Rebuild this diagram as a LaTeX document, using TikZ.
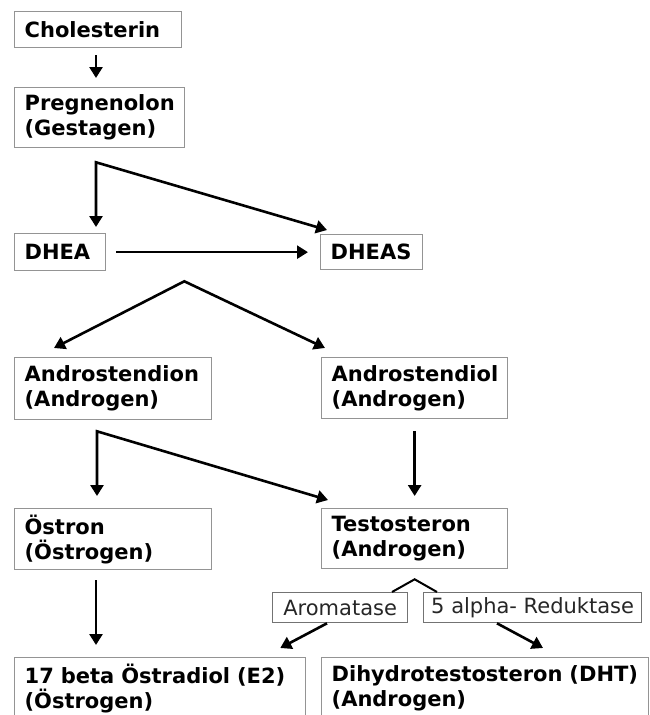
\documentclass[tikz,border=0pt]{standalone}
\usepackage{fontspec}
\setmainfont{DejaVu Sans}
\usetikzlibrary{arrows.meta}
\hyphenpenalty=10000
\exhyphenpenalty=10000

\tikzset{
  box/.style={draw=black!42, line width=1.3pt, anchor=north west, align=left,
    inner xsep=10pt, inner ysep=0pt, font=\fontsize{21}{25}\selectfont\bfseries},
  enzbox/.style={draw=black!55, line width=1.3pt, anchor=north west, align=center,
    inner xsep=0pt, inner ysep=0pt, text=black!85, font=\fontsize{21}{25}\selectfont},
  arr/.style={line width=2.6pt, -{Triangle[length=11pt,width=13pt]}},
  arrtwo/.style={line width=2.6pt, {Triangle[length=11pt,width=13pt]}-{Triangle[length=11pt,width=13pt]}},
  branch/.style={line width=2pt}
}

\begin{document}
\begin{tikzpicture}[x=1pt,y=-1pt]
%\draw[step=50,gray,very thin] (0,0) grid (650,715); %background grid
\useasboundingbox (0,0) rectangle (650,715);
\clip (0,0) rectangle (650,715);

\node[box, text width=147pt, minimum height=36pt] (chol) at (14,11) {Cholesterin};
\node[box, text width=150pt, minimum height=60pt] (preg) at (14,87) {Pregnenolon\\(Gestagen)};

\node[box, text width=71pt, minimum height=37pt] (dhea) at (14,233) {DHEA};
\node[box, text width=82pt, minimum height=35pt] (dheas) at (320,234) {DHEAS};

\node[box, text width=177pt, minimum height=62pt] (adion) at (14,357) {Androstendion\\(Androgen)};
\node[box, text width=166pt, minimum height=61pt] (adiol) at (321,357) {Androstendiol\\(Androgen)};

\node[box, text width=177pt, minimum height=61pt] (oestron) at (14,508) {Östron\\(Östrogen)};
\node[box, text width=166pt, minimum height=60pt] (testo) at (321,508) {Testosteron\\(Androgen)};

\node[enzbox, minimum width=135pt, minimum height=30pt] (aroma) at (272,592) {Aromatase};
\node[enzbox, minimum width=218pt, minimum height=30pt] (reduk) at (423,592) {5 alpha- Reduktase};

\node[box, text width=271pt, minimum height=61pt] (oestradiol) at (14,657) {17 beta Östradiol (E2)\\(Östrogen)};
\node[box, text width=307pt, minimum height=61pt] (dht) at (321,657) {Dihydrotestosteron (DHT)\\(Androgen)};

% branch points
\coordinate (pf) at ([xshift=82pt,yshift=-14pt]preg.south west);
\coordinate (ds) at ([xshift=78pt,yshift=-10pt]dhea.south east);
\coordinate (as) at ([xshift=83pt,yshift=-11pt]adion.south west);
\coordinate (ts) at ([yshift=-10pt]testo.south);

\draw[arr, shorten <=7pt, shorten >=9pt] ([xshift=82pt]chol.south west) -- ([xshift=82pt]preg.north west);
\draw[arrtwo] ([xshift=82pt,yshift=6pt]dhea.north west) -- (pf) -- ([xshift=7pt,yshift=4pt]dheas.north west);
\draw[arr, shorten <=10pt, shorten >=12pt] (dhea.east) -- (dheas.west);

\draw[arrtwo] ([xshift=40pt,yshift=9pt]adion.north west) -- (ds) -- ([xshift=4pt,yshift=9pt]adiol.north west);

\draw[arrtwo] ([xshift=83pt,yshift=12pt]oestron.north west) -- (as) -- ([xshift=7pt,yshift=8pt]testo.north west);
\draw[arr, shorten <=12pt, shorten >=12pt] (adiol.south) -- (testo.north);

\draw[arr, shorten <=10pt, shorten >=12pt] ([xshift=82pt]oestron.south west) -- ([xshift=82pt]oestradiol.north west);

\draw[branch] ([xshift=120pt]aroma.north west) -- (ts) -- ([xshift=14pt]reduk.north west);
\draw[arr] ([xshift=55pt]aroma.south west) -- ([xshift=-26pt,yshift=9pt]oestradiol.north east);
\draw[arr] ([xshift=74pt]reduk.south west) -- ([xshift=222pt,yshift=9pt]dht.north west);

\end{tikzpicture}
\end{document}
